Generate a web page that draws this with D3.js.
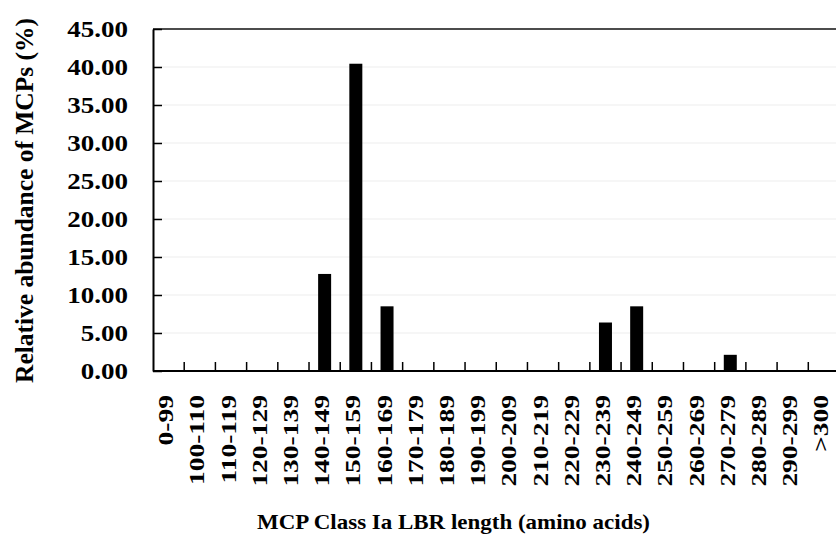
<!DOCTYPE html>
<html>
<head>
<meta charset="utf-8">
<script src="https://cdn.jsdelivr.net/npm/d3@7"></script>
<style>
  html, body { margin: 0; padding: 0; background: #fff; }
  svg { display: block; }
  text { font-family: "Liberation Serif", "Times New Roman", serif; font-weight: bold; fill: #000; }
</style>
</head>
<body>
<svg id="chart" width="836" height="537"></svg>
<script>
const categories = ["0-99","100-110","110-119","120-129","130-139","140-149","150-159","160-169","170-179","180-189","190-199","200-209","210-219","220-229","230-239","240-249","250-259","260-269","270-279","280-289","290-299",">300"];
const values = [0, 0, 0, 0, 0, 12.77, 40.43, 8.51, 0, 0, 0, 0, 0, 0, 6.38, 8.51, 0, 0, 2.13, 0, 0, 0];
const yTicks = [0, 5, 10, 15, 20, 25, 30, 35, 40, 45];
const xTitle = "MCP Class Ia LBR length (amino acids)";
const yTitle = "Relative abundance of MCPs (%)";

(function () {
const svg = d3.select("#chart");
const mLeft = 153, mRight = 839.5, mTop = 29, mBottom = 371;

const x = d3.scaleBand().domain(categories).range([mLeft, mRight]).paddingInner(0).paddingOuter(0);
const y = d3.scaleLinear().domain([0, 45]).range([mBottom, mTop]);

// gridlines
svg.append("g").selectAll("line").data(yTicks.filter(t => t > 0 && t < 45)).join("line")
  .attr("x1", mLeft).attr("x2", mRight)
  .attr("y1", d => y(d)).attr("y2", d => y(d))
  .attr("stroke", "#ededed").attr("stroke-width", 1);

// bars
const barW = 13;
svg.append("g").selectAll("rect").data(categories.map((c, i) => ({c, v: values[i]})).filter(d => d.v > 0)).join("rect")
  .attr("x", d => x(d.c) + x.bandwidth() / 2 - barW / 2)
  .attr("width", barW)
  .attr("y", d => y(d.v))
  .attr("height", d => y(0) - y(d.v))
  .attr("fill", "#000");

// top border
svg.append("line").attr("x1", mLeft).attr("x2", mRight).attr("y1", y(45)).attr("y2", y(45))
  .attr("stroke", "#111").attr("stroke-width", 1.5);

// y axis
const yAxis = d3.axisLeft(y).tickValues(yTicks).tickSizeInner(-9).tickSizeOuter(0).tickFormat(d3.format(".2f"));
const gy = svg.append("g").attr("transform", `translate(${mLeft},0)`).call(yAxis);
gy.select(".domain").attr("stroke", "#000").attr("stroke-width", 2);
gy.selectAll(".tick line").attr("stroke", "#000").attr("stroke-width", 1.5);
gy.selectAll(".tick text").remove();
gy.selectAll(".tick").append("text")
  .attr("text-anchor", "end")
  .attr("transform", "translate(-25,0) scale(1.2,1)")
  .attr("dy", "0.33em")
  .style("font-size", "22.5px")
  .text(d => d3.format(".2f")(d));

// x axis line
svg.append("line").attr("x1", mLeft).attr("x2", mRight).attr("y1", y(0)).attr("y2", y(0))
  .attr("stroke", "#000").attr("stroke-width", 2);

// boundary ticks (inward)
svg.append("g").selectAll("line").data(categories.slice(1)).join("line")
  .attr("x1", d => x(d)).attr("x2", d => x(d))
  .attr("y1", y(0)).attr("y2", y(0) - 9)
  .attr("stroke", "#000").attr("stroke-width", 1.5);

// x tick labels
svg.append("g").selectAll("text").data(categories).join("text")
  .attr("text-anchor", "end")
  .attr("transform", d => `translate(${x(d) + x.bandwidth() / 2 + 4.5},395) rotate(-90) scale(1.25,1)`)
  .style("font-size", "22px")
  .text(d => d);

// x title
svg.append("text")
  .attr("x", 257).attr("y", 529)
  .attr("textLength", 393).attr("lengthAdjust", "spacingAndGlyphs")
  .style("font-size", "22px")
  .text(xTitle);

// y title
svg.append("text")
  .attr("transform", "translate(33,383) rotate(-90)")
  .attr("x", 0).attr("y", 0)
  .attr("textLength", 365).attr("lengthAdjust", "spacingAndGlyphs")
  .style("font-size", "25px")
  .text(yTitle);
})();
</script>
</body>
</html>
